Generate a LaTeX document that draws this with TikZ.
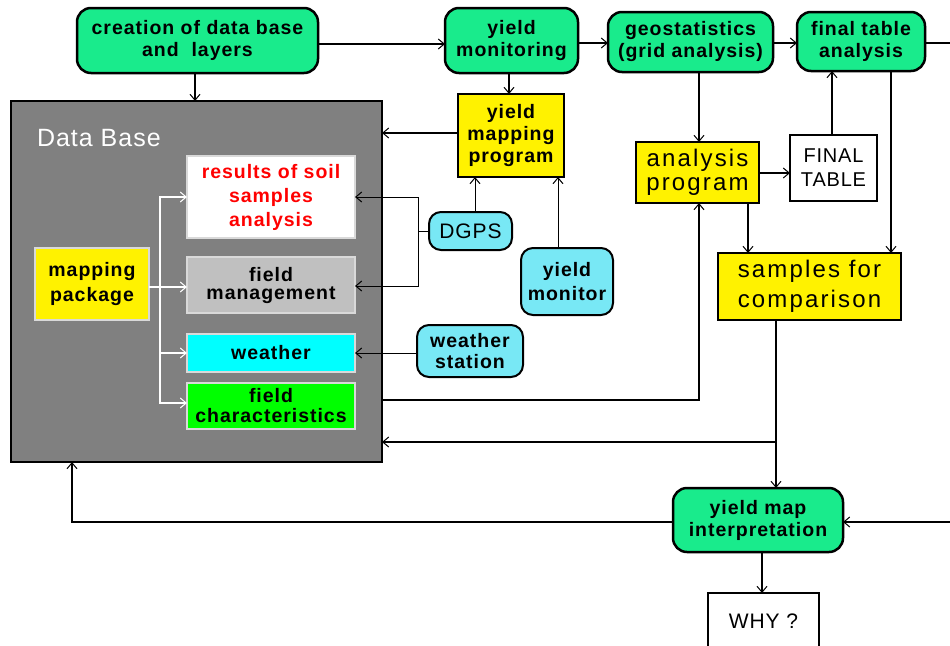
\documentclass[tikz,border=0pt]{standalone}
\usepackage{fontspec}
\setmainfont{Liberation Sans}
\newfontfamily\boxfont[LetterSpace=5]{Liberation Sans}
\newfontfamily\plainfont[LetterSpace=4]{Liberation Sans}
\newfontfamily\widefont[LetterSpace=9]{Liberation Sans}
\usetikzlibrary{arrows.meta}

\definecolor{flowgreen}{RGB}{25,235,140}
\definecolor{devcyan}{RGB}{120,232,245}
\definecolor{dbgray}{RGB}{128,128,128}
\definecolor{mgray}{RGB}{192,192,192}
\definecolor{layercyan}{RGB}{0,255,255}
\definecolor{layergreen}{RGB}{0,255,0}

\begin{document}
\begin{tikzpicture}[x=1pt,y=-1pt,
  every node/.style={inner sep=0pt, outer sep=0pt, align=center},
  bold/.style={font=\boxfont\bfseries\fontsize{19.5}{22}\selectfont},
  stage/.style={bold, draw=black, line width=2.5pt, fill=flowgreen, rounded corners=14pt},
  device/.style={bold, draw=black, line width=2pt, fill=devcyan, rounded corners=12pt},
  prog/.style={draw=black, line width=2.5pt, fill=yellow},
  layer/.style={bold, draw=white!85!black, line width=1.2pt},
  barb/.style={-{Straight Barb[length=6pt,width=10pt,line width=1pt]}},
  flow/.style={line width=2pt, barb},
  link/.style={line width=1pt, barb},
  feed/.style={white, line width=2pt, barb},
]
\useasboundingbox (0,0) rectangle (950,645);
\clip (0,0) rectangle (950,645);

% --- top row of processing stages
\node[stage, minimum width=241pt, minimum height=65pt] (create) at (197.5,40.5) {creation of data base\\and\ \ layers};
\node[stage, minimum width=133pt, minimum height=65pt] (monitoring) at (511.5,40.5) {yield\\monitoring};
\node[stage, minimum width=165pt, minimum height=60pt] (geostat) at (690.5,42) {geostatistics\\(grid analysis)};
\node[stage, minimum width=128pt, minimum height=59pt] (finalan) at (861,41.5) {final table\\analysis};

% --- data base block and its layers
\node[draw=black, line width=2.5pt, fill=dbgray, minimum width=371pt, minimum height=361pt] (db) at (196.5,281.5) {};
\node[anchor=west, text=white, font=\plainfont\fontsize{25}{30}\selectfont] (dblabel) at (37,138) {Data Base};
\node[layer, fill=white, text=red, minimum width=168pt, minimum height=82pt,
      font=\boxfont\bfseries\fontsize{19.5}{24}\selectfont] (soil) at (271,197) {results of soil\\samples\\analysis};
\node[layer, fill=mgray, minimum width=168pt, minimum height=56pt,
      font=\boxfont\bfseries\fontsize{19.5}{18}\selectfont] (mgmt) at (271,285) {field\\management};
\node[layer, fill=layercyan, minimum width=168pt, minimum height=38pt] (weather) at (271,353) {weather};
\node[layer, fill=layergreen, minimum width=168pt, minimum height=46pt,
      font=\boxfont\bfseries\fontsize{19.5}{20}\selectfont] (fieldchar) at (271,406) {field\\characteristics};
\node[layer, fill=yellow, minimum width=114pt, minimum height=72pt,
      font=\boxfont\bfseries\fontsize{19.5}{25}\selectfont] (mapping) at (92,284) {mapping\\package};

% --- programs and tables
\node[prog, bold, minimum width=106pt, minimum height=83pt] (ymprog) at (511,135.5) {yield\\mapping\\program};
\node[prog, font=\widefont\fontsize{24}{24}\selectfont, minimum width=123pt, minimum height=61pt] (anprog) at (697.5,172.5) {analysis\\program};
\node[draw=black, line width=2.5pt, fill=white, font=\plainfont\fontsize{20}{24}\selectfont,
      minimum width=87pt, minimum height=66pt] (ftable) at (833.5,168) {FINAL\\TABLE};
\node[prog, font=\widefont\fontsize{24}{30}\selectfont, minimum width=183pt, minimum height=67pt] (samples) at (809.5,286.5) {samples for\\comparison};

% --- field devices
\node[device, font=\plainfont\fontsize{21}{24}\selectfont, minimum width=83pt, minimum height=38pt] (dgps) at (470.5,231) {DGPS};
\node[device, font=\boxfont\bfseries\fontsize{19.5}{24}\selectfont, minimum width=92pt, minimum height=67pt] (ymonitor) at (567,281.5) {yield\\monitor};
\node[device, font=\boxfont\bfseries\fontsize{19.5}{21}\selectfont, minimum width=106pt, minimum height=52pt] (wstation) at (470,351) {weather\\station};

% --- interpretation
\node[stage, minimum width=170pt, minimum height=64pt] (interp) at (758,520) {yield map\\interpretation};
\node[draw=black, line width=2pt, fill=white, font=\plainfont\fontsize{21}{24}\selectfont,
      minimum width=111pt, minimum height=57pt] (why) at (763.5,621.5) {WHY ?};

% --- free ends and junctions
\coordinate (east top) at (950,43);
\coordinate (east low) at (950,522);
\coordinate (split) at (776,442);
\coordinate (bracket) at (dgps.west -| 418,0);
\coordinate (fork) at (160,287);

% --- main flow (thick)
\draw[flow] (create.east |- 0,44) -- (monitoring.west |- 0,44);
\draw[flow] (monitoring.east |- 0,43) -- (geostat.west |- 0,43);
\draw[flow] (geostat.east |- 0,43) -- (finalan.west |- 0,43);
\draw[line width=2pt] (finalan.east |- east top) -- (east top);
\draw[flow] (create.south -| 195,0) -- (db.north -| 195,0);
\draw[flow] (monitoring.south -| 509,0) -- (ymprog.north -| 509,0);
\draw[flow] (ymprog.west |- 0,133) -- (db.east |- 0,133);
\draw[flow] (geostat.south -| 699,0) -- (anprog.north -| 699,0);
\draw[flow] (anprog.east |- 0,173) -- (ftable.west |- 0,173);
\draw[flow] (ftable.north -| 832,0) -- (finalan.south -| 832,0);
\draw[flow] (finalan.south -| 891,0) -- (samples.north -| 891,0);
\draw[flow] (anprog.south -| 748,0) -- (samples.north -| 748,0);
\draw[flow] (db.east |- 0,400) -| (anprog.south -| 699,0);
\draw[line width=2pt] (samples.south -| split) -- (split);
\draw[flow] (split) -- (db.east |- split);
\draw[flow] (split) -- (interp.north -| split);
\draw[flow] (interp.west |- east low) -| (db.south -| 72,0);
\draw[flow] (east low) -- (interp.east |- east low);
\draw[flow] (interp.south -| 762,0) -- (why.north -| 762,0);

% --- sensor links (thin)
\draw[link] (dgps.north -| 475,0) -- (ymprog.south -| 475,0);
\draw[link] (ymonitor.north -| 558,0) -- (ymprog.south -| 558,0);
\draw[line width=1pt] (dgps.west) -- (bracket);
\draw[link] (bracket) |- (soil.east |- 0,197);
\draw[link] (bracket) |- (mgmt.east |- 0,286);
\draw[link] (wstation.west |- 0,353) -- (weather.east |- 0,353);

% --- mapping package feeding the layers (white)
\draw[white, line width=2pt] (mapping.east |- fork) -- (fork);
\draw[feed] (fork) |- (soil.west |- 0,197);
\draw[feed] (fork) -- (mgmt.west |- fork);
\draw[feed] (fork) |- (weather.west);
\draw[feed] (fork) |- (fieldchar.west |- 0,403);
\end{tikzpicture}
\end{document}
